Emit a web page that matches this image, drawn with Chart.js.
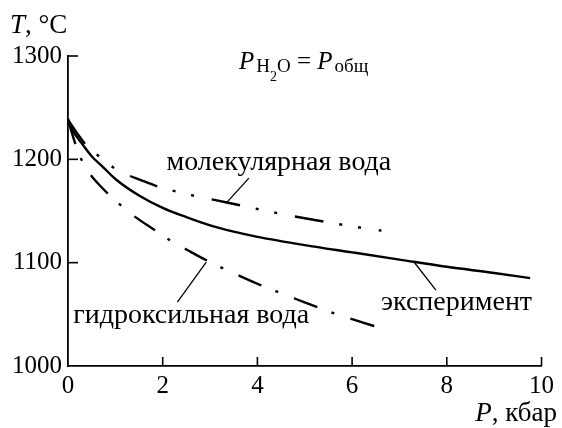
<!DOCTYPE html>
<html>
<head>
<meta charset="utf-8">
<script src="https://cdn.jsdelivr.net/npm/chart.js@4.4.1/dist/chart.umd.min.js"></script>
<style>
  html, body { margin: 0; padding: 0; background: #fff; }
  #wrap { width: 562px; height: 428px; }
</style>
</head>
<body>
<div id="wrap"><canvas id="chart" width="562" height="428"></canvas></div>
<script>
// --- data ---
const expP = [0, 0.1, 0.25, 0.5, 0.75, 1, 1.5, 2, 2.5, 3, 3.5, 4, 5, 6, 7, 8, 9, 9.76];
const expT = [1239, 1228, 1218, 1203, 1192, 1181, 1165, 1153, 1144, 1136, 1130, 1125, 1117, 1110, 1103, 1096, 1090, 1085];

const molP = [0, 0.38, 0.71, 1.03, 1.59, 1.94, 2.36, 2.74, 3.33, 4.52, 5.12, 6.3, 6.62];
const molT = [1238, 1214, 1201, 1190, 1179, 1173, 1168, 1164, 1158.5, 1147, 1142, 1133, 1131];

const hydP = [0, 0.2, 0.36, 0.75, 1.03, 1.31, 1.83, 2.14, 2.53, 2.98, 3.68, 4.24, 4.59, 4.97, 5.5, 5.88, 6.23, 6.55];
const hydT = [1238, 1209, 1193, 1171, 1159, 1148, 1131.5, 1122, 1112, 1101, 1086, 1075, 1069, 1062, 1053, 1047, 1042, 1037.5];

const xTicks = [0, 2, 4, 6, 8, 10];
const yTicks = [1000, 1100, 1200, 1300];

// label anchors and leader lines, in data units [P, T]
const labels = [
  { text: "молекулярная вода", at: [2.08, 1189.6], line: [[3.34, 1157.6], [3.82, 1181.8]] },
  { text: "гидроксильная вода", at: [0.11, 1041.6], line: [[2.92, 1100.6], [2.31, 1061.9]] },
  { text: "эксперимент", at: [6.61, 1054.2], line: [[7.32, 1099.9], [7.77, 1073.5]] }
];
const formulaAt = [3.61, 1287.2];

const FONT = "'Liberation Serif', 'DejaVu Serif', serif";

const pts = (xs, ys) => xs.map((v, i) => ({ x: v, y: ys[i] }));

// draws inward ticks, leader lines and all the text labels
const annotate = {
  id: 'annotate',
  afterDraw(chart) {
    const ctx = chart.ctx;
    const x = chart.scales.x, y = chart.scales.y;
    const line = (x1, y1, x2, y2) => { ctx.beginPath(); ctx.moveTo(x1, y1); ctx.lineTo(x2, y2); ctx.stroke(); };
    ctx.save();
    ctx.strokeStyle = '#000';
    ctx.fillStyle = '#000';
    ctx.lineWidth = 1.6;
    for (const v of xTicks) {
      if (v == 0) continue;
      const px = x.getPixelForValue(v);
      line(px, y.bottom, px, y.bottom - 9);
    }
    for (const v of yTicks) {
      if (v == 1000) continue;
      const py = y.getPixelForValue(v);
      line(x.left, py, x.left + 10, py);
    }

    ctx.lineWidth = 1.3;
    ctx.textBaseline = 'alphabetic';
    ctx.textAlign = 'left';
    ctx.font = '28px ' + FONT;
    for (const l of labels) {
      const a = l.line[0], b = l.line[1];
      line(x.getPixelForValue(a[0]), y.getPixelForValue(a[1]), x.getPixelForValue(b[0]), y.getPixelForValue(b[1]));
      ctx.fillText(l.text, x.getPixelForValue(l.at[0]), y.getPixelForValue(l.at[1]));
    }

    // P_H2O = P_общ
    let fx = x.getPixelForValue(formulaAt[0]);
    const fy = y.getPixelForValue(formulaAt[1]);
    const put = (s, font, dy) => { ctx.font = font; ctx.fillText(s, fx, fy + dy); fx += ctx.measureText(s).width; };
    put('P', 'italic 25px ' + FONT, 0);
    fx += 2;
    put('H', '19px ' + FONT, 3);
    put('2', '14px ' + FONT, 12);
    put('O', '19px ' + FONT, 3);
    put(' = ', '25px ' + FONT, 0);
    put('P', 'italic 25px ' + FONT, 0);
    fx += 2;
    put('общ', '19px ' + FONT, 3);

    // axis titles
    fx = 10;
    const ty = 33;
    ctx.font = 'italic 27px ' + FONT;
    ctx.fillText('T', fx, ty);
    fx += ctx.measureText('T').width;
    ctx.font = '27px ' + FONT;
    ctx.fillText(', °C', fx, ty);

    ctx.font = '27px ' + FONT;
    const rest = ', кбар';
    const rw = ctx.measureText(rest).width;
    ctx.fillText(rest, 557 - rw, 421);
    ctx.font = 'italic 27px ' + FONT;
    const pw = ctx.measureText('P').width;
    ctx.fillText('P', 557 - rw - pw, 421);
    ctx.restore();
  }
};

new Chart(document.getElementById('chart'), {
  type: 'line',
  data: {
    datasets: [
      { label: 'эксперимент', data: pts(expP, expT), borderDash: [] },
      { label: 'молекулярная вода', data: pts(molP, molT), borderDash: [29, 16, 3, 16, 3, 18] },
      { label: 'гидроксильная вода', data: pts(hydP, hydT), borderDash: [25, 15, 3, 17] }
    ]
  },
  options: {
    responsive: false,
    animation: false,
    layout: { padding: { top: 56, right: 17, left: 0, bottom: 0 } },
    elements: {
      point: { radius: 0 },
      line: { borderColor: '#000', borderWidth: 2.4, cubicInterpolationMode: 'monotone', fill: false }
    },
    plugins: { legend: { display: false }, tooltip: { enabled: false } },
    scales: {
      x: {
        type: 'linear', min: 0, max: 10,
        afterFit: (s) => { s.height = 62; },
        afterBuildTicks: (s) => { s.ticks = xTicks.map(v => ({ value: v })); },
        grid: { display: false, drawTicks: false },
        border: { display: true, color: '#000', width: 1.8 },
        ticks: { color: '#000', padding: 8, maxRotation: 0, callback: (v) => String(v), font: { family: FONT, size: 25, lineHeight: 1 } }
      },
      y: {
        type: 'linear', min: 1000, max: 1300,
        afterFit: (s) => { s.width = 68; },
        afterBuildTicks: (s) => { s.ticks = yTicks.map(v => ({ value: v })); },
        grid: { display: false, drawTicks: false },
        border: { display: true, color: '#000', width: 1.8 },
        ticks: { color: '#000', padding: 6, callback: (v) => String(v), font: { family: FONT, size: 25, lineHeight: 1 } }
      }
    }
  },
  plugins: [annotate]
});
</script>
</body>
</html>
